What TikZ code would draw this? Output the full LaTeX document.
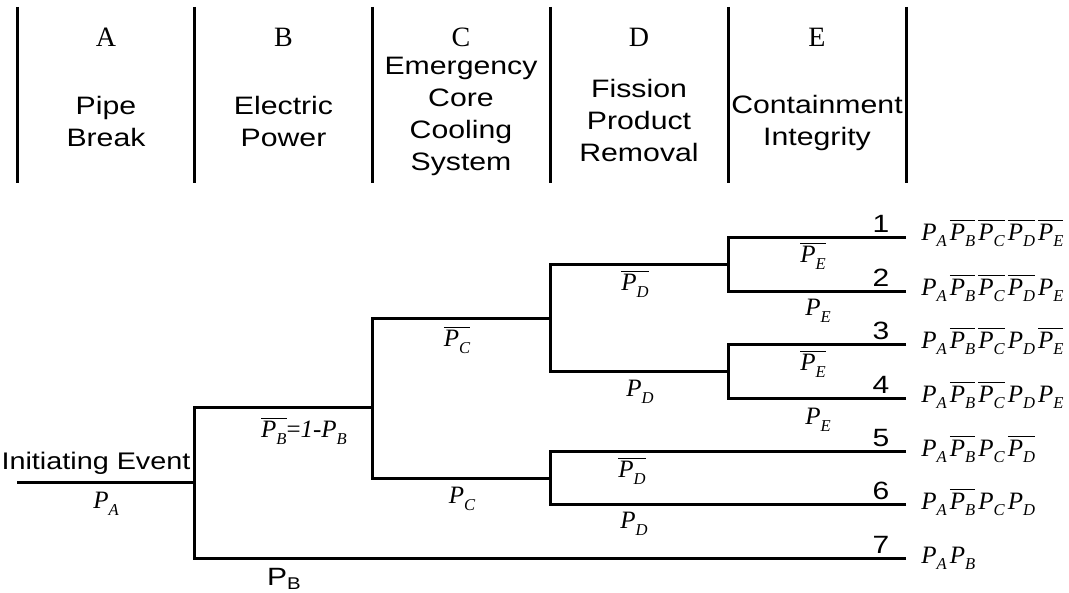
\documentclass[tikz,border=0pt]{standalone}
\usepackage{fontspec}
\setmainfont{Liberation Serif}
\setsansfont{Liberation Sans}[FakeStretch=1.2]
\usepackage{tikz}

\newcommand{\pr}[1]{\textit{P}\raisebox{-3.4pt}{\fontsize{8.3}{8}\selectfont\textit{#1}}}
\newcommand{\prbar}[1]{$\overline{\mbox{\pr{#1}}}$}
\newcommand{\gap}{\kern1.5pt}

\begin{document}
\begin{tikzpicture}[x=0.5pt,y=-0.5pt,
  branch/.style={line width=1.5pt},
  sep/.style={line width=1.5pt},
  letter/.style={font=\fontsize{14}{14}\selectfont},
  title/.style={font=\sffamily\fontsize{12.6}{16}\selectfont, align=center, inner sep=0pt},
  lab/.style={font=\fontsize{12.5}{12}\selectfont, inner sep=0pt},
  num/.style={font=\sffamily\fontsize{12.5}{12}\selectfont, inner sep=0pt, anchor=south},
  outc/.style={font=\fontsize{12.5}{12}\selectfont, inner sep=0pt, anchor=base west}]
\useasboundingbox (0,0) rectangle (1069,593);

\foreach \x in {17,194.8,372.6,550.4,728.2,906}
  \draw[sep] (\x,7) -- (\x,183);

\node[letter] (la) at (106,37) {A};
\node[letter] (lb) at (283.5,37) {B};
\node[letter] (lc) at (461,37) {C};
\node[letter] (ld) at (639,37) {D};
\node[letter] (le) at (817,37) {E};
\node[title] (ta) at (106,121) {Pipe\\Break};
\node[title] (tb) at (283.5,121) {Electric\\Power};
\node[title] (tc) at (461,116) {Emergency\\Core\\Cooling\\System};
\node[title] (td) at (639,120.5) {Fission\\Product\\Removal};
\node[title] (te) at (817,123) {Containment\\Integrity};

\coordinate (start) at (17,482);
\coordinate (jB) at (194,482);
\coordinate (jC) at (372,407);
\coordinate (jD1) at (550,318);
\coordinate (jD2) at (550,478);
\coordinate (jE1) at (728,264);
\coordinate (jE2) at (728,371);
\coordinate (o1) at (906,237);
\coordinate (o2) at (906,291);
\coordinate (o3) at (906,344);
\coordinate (o4) at (906,398);
\coordinate (o5) at (906,451);
\coordinate (o6) at (906,504);
\coordinate (o7) at (906,558);

\draw[branch] (start) -- (jB);
\draw[branch] (jC) -| (jB);
\draw[branch] (o7) -| (jB);
\draw[branch] (jD1) -| (jC);
\draw[branch] (jD2) -| (jC);
\draw[branch] (jE1) -| (jD1);
\draw[branch] (jE2) -| (jD1);
\draw[branch] (o5) -| (jD2);
\draw[branch] (o6) -| (jD2);
\draw[branch] (o1) -| (jE1);
\draw[branch] (o2) -| (jE1);
\draw[branch] (o3) -| (jE2);
\draw[branch] (o4) -| (jE2);

\node[font=\sffamily\fontsize{12}{12}\selectfont, anchor=base] (init) at (96,469) {Initiating Event};
\node[lab] (pa) at (106,504) {\pr{A}};
\node[lab] (pbn) at (304,431) {\prbar{B}{=}\textit{1-}\pr{B}};
\node[font=\sffamily\fontsize{12.5}{12}\selectfont, inner sep=0pt] (pb) at (284,579) {P\raisebox{-2pt}{\fontsize{8.5}{8}\selectfont B}};
\node[lab] (pcn) at (457,340) {\prbar{C}};
\node[lab] (pc) at (462,499) {\pr{C}};
\node[lab] (pdn1) at (635,284) {\prbar{D}};
\node[lab] (pd1) at (640,392) {\pr{D}};
\node[lab] (pdn2) at (632,471) {\prbar{D}};
\node[lab] (pd2) at (634,524) {\pr{D}};
\node[lab] (pen1) at (813,256) {\prbar{E}};
\node[lab] (pe1) at (818,311) {\pr{E}};
\node[lab] (pen2) at (813,364) {\prbar{E}};
\node[lab] (pe2) at (818,420) {\pr{E}};

\node[num] (n1) at (881,233) {1};
\node[num] (n2) at (881,287) {2};
\node[num] (n3) at (881,340) {3};
\node[num] (n4) at (881,394) {4};
\node[num] (n5) at (881,447) {5};
\node[num] (n6) at (881,500) {6};
\node[num] (n7) at (881,554) {7};

\node[outc] (r1) at (921,240) {\pr{A}\gap\prbar{B}\gap\prbar{C}\gap\prbar{D}\gap\prbar{E}};
\node[outc] (r2) at (921,295) {\pr{A}\gap\prbar{B}\gap\prbar{C}\gap\prbar{D}\gap\pr{E}};
\node[outc] (r3) at (921,348) {\pr{A}\gap\prbar{B}\gap\prbar{C}\gap\pr{D}\gap\prbar{E}};
\node[outc] (r4) at (921,402) {\pr{A}\gap\prbar{B}\gap\prbar{C}\gap\pr{D}\gap\pr{E}};
\node[outc] (r5) at (921,456) {\pr{A}\gap\prbar{B}\gap\pr{C}\gap\prbar{D}};
\node[outc] (r6) at (921,509) {\pr{A}\gap\prbar{B}\gap\pr{C}\gap\pr{D}};
\node[outc] (r7) at (921,563) {\pr{A}\gap\pr{B}};
\end{tikzpicture}
\end{document}
